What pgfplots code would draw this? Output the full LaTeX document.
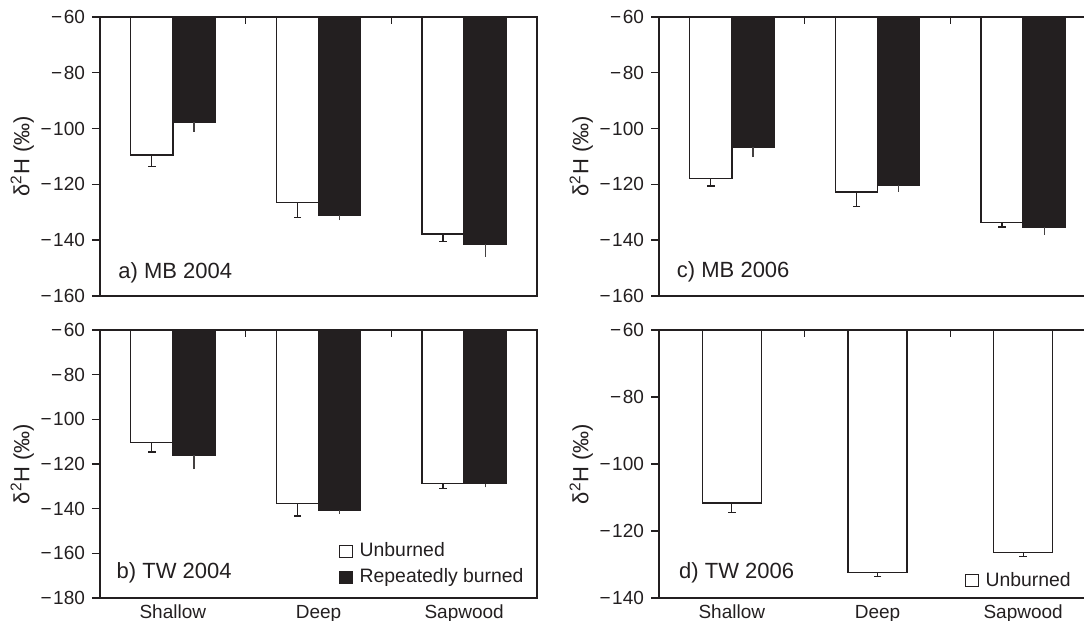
\documentclass[border=0pt]{standalone}
\usepackage{pgfplots}
\pgfplotsset{compat=1.18}
\usepackage{fontspec}
\setmainfont{Liberation Sans}
\definecolor{ink}{HTML}{231F20}

\tikzset{plabel/.style={anchor=west, font=\fontsize{11}{13}\selectfont, text=ink}}
\newcommand{\mn}{−\kern0.8pt}

\pgfplotsset{
  panel/.style={
    scale only axis, width=218.5pt,
    xmin=-0.5, xmax=2.5,
    xtick={0,1,2}, xticklabels={Shallow,Deep,Sapwood},
    minor xtick={0.5,1.5},
    xtick pos=top, xticklabel pos=bottom,
    xtick align=inside,
    major x tick style={draw=none},
    minor x tick style={draw=ink, line width=0.7pt},
    minor tick length=3.5pt,
    ytick pos=left, ytick align=outside,
    major tick length=4pt,
    y tick style={draw=ink, line width=0.7pt},
    axis line style={draw=ink, line width=0.8pt},
    tick label style={font=\fontsize{9.5}{11}\selectfont, text=ink},
    ylabel={δ\textsuperscript{2}H (‰)},
    every axis y label/.style={at={(rel axis cs:-0.178,0.5)}, rotate=90, anchor=center,
      font=\fontsize{11}{13}\selectfont, text=ink},
    legend image code/.code={\draw[#1] (0pt,-3.1pt) rectangle (6.2pt,3.1pt); \path (8.4pt,0pt);},
  },
  wbar/.style={ybar, bar width=0.29, bar shift=0, fill=white, draw=ink, line width=0.7pt,
    error bars/y dir=minus, error bars/y explicit,
    error bars/error bar style={draw=ink, line width=0.65pt},
    error bars/error mark options={rotate=90, mark size=1.9pt, line width=0.65pt, draw=ink}},
  bbar/.style={ybar, bar width=0.29, bar shift=0, fill=ink, draw=ink, line width=0.7pt,
    error bars/y dir=minus, error bars/y explicit, error bars/error mark=none,
    error bars/error bar style={draw=ink!85, line width=0.65pt}},
  dbar/.style={ybar, bar width=0.405, bar shift=0, fill=white, draw=ink, line width=0.7pt,
    error bars/y dir=minus, error bars/y explicit,
    error bars/error bar style={draw=ink, line width=0.65pt},
    error bars/error mark options={rotate=90, mark size=1.9pt, line width=0.65pt, draw=ink}},
}

\begin{document}
\begin{tikzpicture}
\useasboundingbox (0,0) rectangle (542pt,310.5pt);

% a) MB 2004
\begin{axis}[panel, at={(50pt,162.5pt)}, anchor=south west, height=139.5pt,
  ymin=-160, ymax=-60, ytick={-160,-140,-120,-100,-80,-60},
  yticklabels={\mn160,\mn140,\mn120,\mn100,\mn80,\mn60}, xticklabels={}]
\addplot[wbar] coordinates {(-0.145,-109.5) +- (0,4.2) (0.855,-126.5) +- (0,5.3) (1.855,-137.8) +- (0,2.7)};
\addplot[bbar] coordinates {(0.145,-97.8) +- (0,3.4) (1.145,-131.0) +- (0,1.8) (2.145,-141.4) +- (0,4.5)};
\node[plabel] at (rel axis cs:0.026,0.082) {a) MB 2004};
\end{axis}

% b) TW 2004
\begin{axis}[panel, at={(50pt,11.5pt)}, anchor=south west, height=134pt,
  ymin=-180, ymax=-60, ytick={-180,-160,-140,-120,-100,-80,-60},
  yticklabels={\mn180,\mn160,\mn140,\mn120,\mn100,\mn80,\mn60},
  legend style={draw=none, fill=none, at={(0.547,0.035)}, anchor=south west,
    font=\fontsize{9.7}{11.5}\selectfont, text=ink, inner sep=0pt, row sep=2pt,
    nodes={inner sep=1.2pt}},
  legend cell align=left]
\addplot[forget plot, wbar] coordinates {(-0.145,-110.5) +- (0,4.1) (0.855,-137.7) +- (0,5.6) (1.855,-128.8) +- (0,2.2)};
\addplot[forget plot, bbar] coordinates {(0.145,-116.1) +- (0,6.2) (1.145,-140.7) +- (0,1.5) (2.145,-128.8) +- (0,1.7)};
\addlegendimage{fill=white, draw=ink, line width=0.5pt}
\addlegendentry{Unburned}
\addlegendimage{fill=ink, draw=ink, line width=0.5pt}
\addlegendentry{Repeatedly burned}
\node[plabel] at (rel axis cs:0.022,0.093) {b) TW 2004};
\end{axis}

% c) MB 2006
\begin{axis}[panel, at={(329.5pt,162.5pt)}, anchor=south west, height=139.5pt,
  ymin=-160, ymax=-60, ytick={-160,-140,-120,-100,-80,-60},
  yticklabels={\mn160,\mn140,\mn120,\mn100,\mn80,\mn60}, xticklabels={}]
\addplot[wbar] coordinates {(-0.145,-117.9) +- (0,2.7) (0.855,-122.7) +- (0,5.1) (1.855,-133.6) +- (0,1.7)};
\addplot[bbar] coordinates {(0.145,-106.6) +- (0,3.6) (1.145,-120.3) +- (0,2.4) (2.145,-135.2) +- (0,2.8)};
\node[plabel] at (rel axis cs:0.025,0.086) {c) MB 2006};
\end{axis}

% d) TW 2006
\begin{axis}[panel, at={(329.5pt,11.5pt)}, anchor=south west, height=134pt,
  ymin=-140, ymax=-60, ytick={-140,-120,-100,-80,-60},
  yticklabels={\mn140,\mn120,\mn100,\mn80,\mn60},
  legend style={draw=none, fill=none, at={(0.70,0.022)}, anchor=south west,
    font=\fontsize{9.7}{11.5}\selectfont, text=ink, inner sep=0pt,
    nodes={inner sep=1.2pt}},
  legend cell align=left]
\addplot[forget plot, dbar] coordinates {(0,-111.6) +- (0,2.9) (1,-132.4) +- (0,1.2) (2,-126.4) +- (0,1.3)};
\addlegendimage{fill=white, draw=ink, line width=0.5pt}
\addlegendentry{Unburned}
\node[plabel] at (rel axis cs:0.03,0.093) {d) TW 2006};
\end{axis}
\end{tikzpicture}
\end{document}
